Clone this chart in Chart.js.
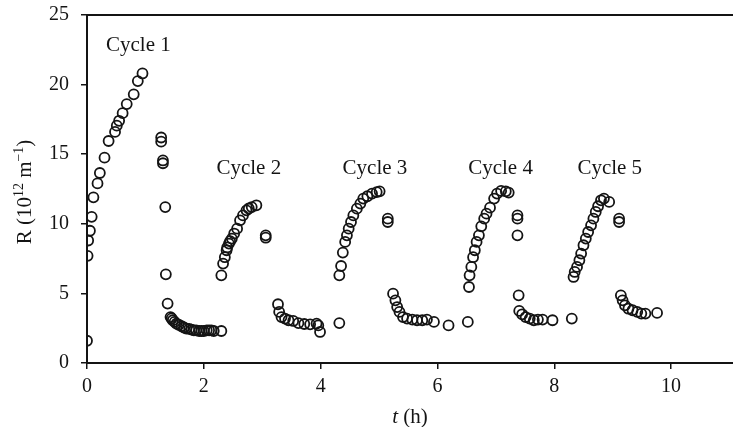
<!DOCTYPE html>
<html>
<head>
<meta charset="utf-8">
<script src="https://cdn.jsdelivr.net/npm/chart.js@4.4.0/dist/chart.umd.min.js"></script>
<style>
  html, body { margin: 0; padding: 0; background: #fff; }
  #wrap { width: 733px; height: 427px; }
</style>
</head>
<body>
<div id="wrap"><canvas id="chart" width="733" height="427"></canvas></div>
<script>
// Filtration resistance R (10^12 m^-1) against time t (h), five cycles.
// Each cycle: build-up during filtration, then the drop/recovery after cleaning.
const cycle1T = [0.00, 0.01, 0.02, 0.05, 0.08, 0.11, 0.18, 0.22, 0.30, 0.37, 0.48, 0.51, 0.55, 0.61, 0.68, 0.80, 0.87, 0.95];
const cycle1R = [1.6, 7.7, 8.8, 9.5, 10.5, 11.9, 12.9, 13.65, 14.75, 15.95, 16.6, 17.05, 17.4, 17.95, 18.6, 19.3, 20.25, 20.8];
const wash1T = [1.27, 1.27, 1.30, 1.30, 1.34, 1.35, 1.38, 1.43, 1.45, 1.47, 1.50, 1.53, 1.57, 1.62, 1.66, 1.70, 1.75, 1.79, 1.83, 1.87, 1.92, 1.96, 2.00, 2.05, 2.09, 2.13, 2.17, 2.30];
const wash1R = [16.2, 15.9, 14.55, 14.35, 11.2, 6.37, 4.27, 3.3, 3.2, 3.07, 2.95, 2.83, 2.75, 2.64, 2.55, 2.47, 2.45, 2.4, 2.35, 2.35, 2.3, 2.3, 2.3, 2.35, 2.35, 2.35, 2.3, 2.3];

const cycle2T = [2.30, 2.33, 2.36, 2.39, 2.40, 2.43, 2.45, 2.48, 2.52, 2.57, 2.62, 2.67, 2.73, 2.77, 2.82, 2.90];
const cycle2R = [6.3, 7.14, 7.6, 8.1, 8.3, 8.58, 8.75, 8.94, 9.3, 9.65, 10.25, 10.6, 10.97, 11.1, 11.2, 11.33];
const wash2T = [3.06, 3.06, 3.27, 3.29, 3.33, 3.39, 3.45, 3.53, 3.62, 3.72, 3.82, 3.93, 3.96, 3.99];
const wash2R = [9.17, 9.0, 4.22, 3.67, 3.3, 3.19, 3.07, 3.02, 2.87, 2.8, 2.78, 2.83, 2.7, 2.23];

const cycle3T = [4.32, 4.32, 4.35, 4.38, 4.42, 4.45, 4.48, 4.52, 4.56, 4.62, 4.68, 4.73, 4.80, 4.88, 4.96, 5.01];
const cycle3R = [2.87, 6.3, 6.97, 7.93, 8.7, 9.17, 9.65, 10.13, 10.6, 11.09, 11.45, 11.81, 11.98, 12.17, 12.28, 12.33];
const wash3T = [5.15, 5.15, 5.24, 5.28, 5.31, 5.35, 5.41, 5.48, 5.57, 5.65, 5.74, 5.82, 5.94, 6.19];
const wash3R = [10.37, 10.13, 4.98, 4.5, 4.02, 3.67, 3.3, 3.19, 3.12, 3.07, 3.07, 3.12, 2.95, 2.7];

const cycle4T = [6.52, 6.54, 6.55, 6.58, 6.61, 6.64, 6.67, 6.71, 6.75, 6.80, 6.84, 6.90, 6.97, 7.02, 7.09, 7.17, 7.22];
const cycle4R = [2.95, 5.46, 6.3, 6.9, 7.6, 8.1, 8.7, 9.17, 9.82, 10.37, 10.73, 11.16, 11.81, 12.17, 12.36, 12.33, 12.24];
const wash4T = [7.37, 7.37, 7.37, 7.39, 7.40, 7.45, 7.51, 7.58, 7.65, 7.72, 7.80, 7.97];
const wash4R = [10.6, 10.37, 9.17, 4.86, 3.74, 3.5, 3.3, 3.19, 3.07, 3.12, 3.12, 3.07];

const cycle5T = [8.30, 8.33, 8.35, 8.39, 8.43, 8.46, 8.50, 8.54, 8.58, 8.63, 8.67, 8.71, 8.75, 8.80, 8.85, 8.94];
const cycle5R = [3.19, 6.18, 6.54, 6.9, 7.38, 7.86, 8.46, 8.94, 9.41, 9.89, 10.37, 10.85, 11.26, 11.69, 11.81, 11.57];
const wash5T = [9.11, 9.11, 9.14, 9.17, 9.21, 9.27, 9.34, 9.42, 9.49, 9.56, 9.76];
const wash5R = [10.37, 10.13, 4.86, 4.5, 4.14, 3.9, 3.79, 3.67, 3.55, 3.55, 3.6];

const xTicks = [0, 2, 4, 6, 8, 10];
const yTicks = [0, 5, 10, 15, 20, 25];

const cycleLabels = ['Cycle 1', 'Cycle 2', 'Cycle 3', 'Cycle 4', 'Cycle 5'];
// where each label sits, in data units (t, R)
const cycleLabelT = [0.88, 2.77, 4.93, 7.08, 8.95];
const cycleLabelR = [22.8, 14.0, 14.0, 14.0, 14.0];

const SERIF = '"Liberation Serif", "Times New Roman", serif';
const INK = '#141414';

function toPoints(ts, rs) {
    return ts.map(function(t, i) { return { x: t, y: rs[i] }; });
}

const allPoints = []
    .concat(toPoints(cycle1T, cycle1R), toPoints(wash1T, wash1R))
    .concat(toPoints(cycle2T, cycle2R), toPoints(wash2T, wash2R))
    .concat(toPoints(cycle3T, cycle3R), toPoints(wash3T, wash3R))
    .concat(toPoints(cycle4T, cycle4R), toPoints(wash4T, wash4R))
    .concat(toPoints(cycle5T, cycle5R), toPoints(wash5T, wash5R));

// Top frame line, cycle labels and the two axis titles (with italic t / superscripts)
const decorPlugin = {
    id: 'decor',
    afterDraw(chart) {
        const ctx = chart.ctx;
        const a = chart.chartArea;
        const xs = chart.scales.x, ys = chart.scales.y;
        ctx.save();

        ctx.strokeStyle = INK;
        ctx.lineWidth = 2;
        ctx.beginPath();
        ctx.moveTo(a.left - 1, a.top);
        ctx.lineTo(a.right, a.top);
        ctx.stroke();

        ctx.fillStyle = INK;
        ctx.textAlign = 'center';
        ctx.textBaseline = 'middle';
        ctx.font = '21px ' + SERIF;
        cycleLabels.forEach(function(lbl, i) {
            ctx.fillText(lbl, xs.getPixelForValue(cycleLabelT[i]), ys.getPixelForValue(cycleLabelR[i]));
        });

        // x title: "t (h)"
        ctx.textAlign = 'left';
        ctx.textBaseline = 'alphabetic';
        const italic = 'italic 21px ' + SERIF, normal = '21px ' + SERIF;
        ctx.font = italic;
        const wT = ctx.measureText('t').width;
        ctx.font = normal;
        const wH = ctx.measureText(' (h)').width;
        let x0 = (a.left + a.right) / 2 - (wT + wH) / 2;
        ctx.font = italic;
        ctx.fillText('t', x0, 423);
        ctx.font = normal;
        ctx.fillText(' (h)', x0 + wT, 423);

        // y title: "R (10^12 m^-1)", rotated
        const parts = [
            { s: 'R (10', f: '21px ' + SERIF, dy: 0 },
            { s: '12', f: '14px ' + SERIF, dy: -8 },
            { s: ' m', f: '21px ' + SERIF, dy: 0 },
            { s: '\u22121', f: '14px ' + SERIF, dy: -8 },
            { s: ')', f: '21px ' + SERIF, dy: 0 }
        ];
        let total = 0;
        parts.forEach(function(p) { ctx.font = p.f; p.w = ctx.measureText(p.s).width; total += p.w; });
        ctx.translate(31, (a.top + a.bottom) / 2 + 3);
        ctx.rotate(-Math.PI / 2);
        let px = -total / 2;
        parts.forEach(function(p) {
            ctx.font = p.f;
            ctx.fillText(p.s, px, p.dy);
            px += p.w;
        });
        ctx.restore();
    }
};

new Chart(document.getElementById('chart'), {
    type: 'scatter',
    data: {
        datasets: [{
            data: allPoints,
            pointStyle: 'circle',
            pointRadius: 5,
            pointHoverRadius: 5,
            pointBorderWidth: 1.8,
            borderColor: INK,
            backgroundColor: 'rgba(0,0,0,0)'
        }]
    },
    options: {
        responsive: false,
        animation: false,
        layout: {
            autoPadding: false,
            padding: { top: 15, right: 0, left: 0, bottom: 0 }
        },
        plugins: {
            legend: { display: false },
            tooltip: { enabled: false }
        },
        scales: {
            x: {
                type: 'linear',
                min: 0,
                max: 11.06,
                afterBuildTicks(scale) {
                    scale.ticks = xTicks.map(function(v) { return { value: v }; });
                },
                afterFit(scale) {
                    scale.height = 64;
                    scale.paddingLeft = 0;
                    scale.paddingRight = 0;
                },
                ticks: {
                    color: INK,
                    font: { family: SERIF, size: 20 },
                    padding: 6,
                    maxRotation: 0
                },
                grid: {
                    drawOnChartArea: false,
                    drawTicks: true,
                    tickLength: 6,
                    color: INK,
                    lineWidth: 1.5
                },
                border: { display: true, color: INK, width: 2 }
            },
            y: {
                type: 'linear',
                min: 0,
                max: 25,
                afterBuildTicks(scale) {
                    scale.ticks = yTicks.map(function(v) { return { value: v }; });
                },
                afterFit(scale) {
                    scale.width = 87;
                    scale.paddingTop = 0;
                    scale.paddingBottom = 0;
                },
                ticks: {
                    color: INK,
                    font: { family: SERIF, size: 20 },
                    padding: 12
                },
                grid: {
                    drawOnChartArea: false,
                    drawTicks: true,
                    tickLength: 6,
                    color: INK,
                    lineWidth: 1.5
                },
                border: { display: true, color: INK, width: 2 }
            }
        }
    },
    plugins: [decorPlugin]
});
</script>
</body>
</html>
